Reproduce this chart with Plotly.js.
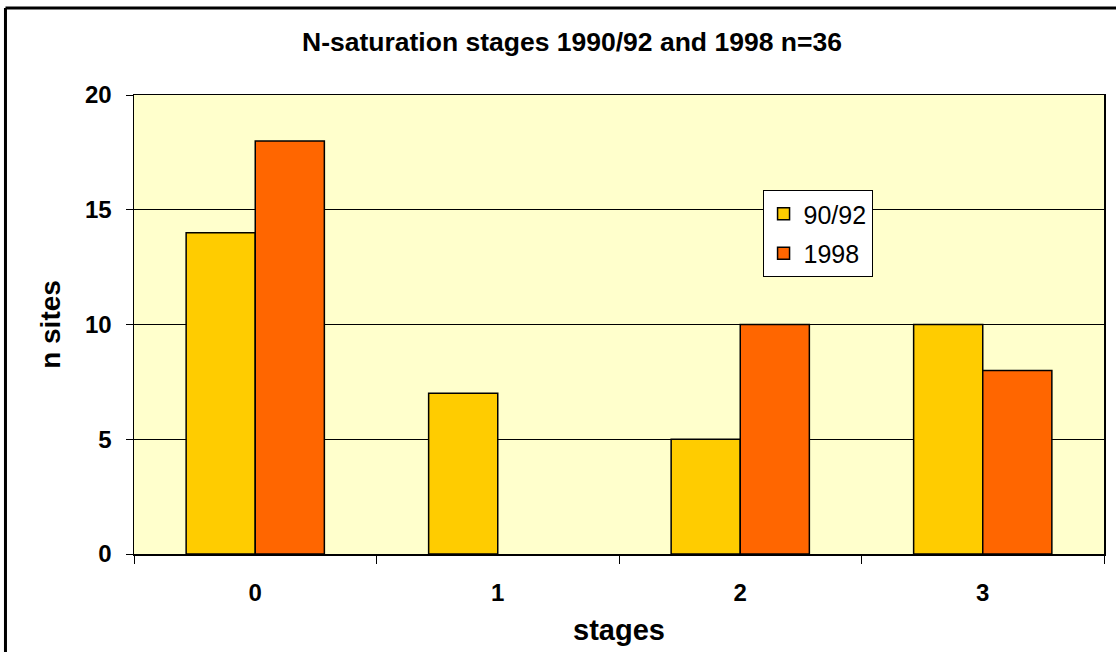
<!DOCTYPE html>
<html>
<head>
<meta charset="utf-8">
<script src="https://cdn.plot.ly/plotly-3.0.1.min.js"></script>
<style>html,body{margin:0;padding:0;background:#fff;}#chart{width:1116px;height:652px;}</style>
</head>
<body>
<div id="chart"></div>
<script>
const categories = ['0', '1', '2', '3'];
const series1990 = [14, 7, 5, 10];
const series1998 = [18, 0, 10, 8];
const seriesNames = ['90/92', '1998'];
const yTicks = [0, 5, 10, 15, 20];

const font = 'Arial, "Liberation Sans", sans-serif';
const edge = vals => vals.map(v => (v === 0 ? 0 : 1.5));

const traces = [
  {type: 'bar', x: categories, y: series1990, name: seriesNames[0], legendgroup: 'a',
   marker: {color: '#FFCC00', line: {color: '#000', width: edge(series1990)}}},
  {type: 'bar', x: categories, y: series1998, name: seriesNames[1], legendgroup: 'b',
   marker: {color: '#FF6600', line: {color: '#000', width: edge(series1998)}}}
];

const layout = {
  width: 1116, height: 652,
  margin: {l: 134, r: 12, t: 95, b: 98, pad: 0},
  paper_bgcolor: '#fff', plot_bgcolor: '#FFFFCC',
  barmode: 'group', bargap: 0.43, bargroupgap: 0,
  font: {family: font, color: '#000'},
  title: {text: 'N-saturation stages 1990/92 and 1998 n=36', font: {size: 26.5, family: font, weight: 'bold'},
          x: 0.4515, xref: 'paper', xanchor: 'center', y: 1 - 42/652, yanchor: 'middle'},
  xaxis: {type: 'category', showline: true, linecolor: '#000', linewidth: 1.5, mirror: true,
          ticks: 'outside', tickson: 'boundaries', ticklen: 8, tickcolor: '#000', tickwidth: 1,
          ticklabelstandoff: 17,
          tickfont: {size: 24, family: font, weight: 'bold'},
          title: {text: 'stages', font: {size: 29, family: font, weight: 'bold'}, standoff: 14}},
  yaxis: {range: [0, 20], tickvals: yTicks, showline: true, linecolor: '#000', linewidth: 1.5, mirror: true,
          ticks: 'outside', ticklen: 7, tickcolor: '#000', tickwidth: 1,
          ticklabelstandoff: 9,
          gridcolor: '#000', gridwidth: 1, zeroline: false,
          tickfont: {size: 24, family: font, weight: 'bold'},
          title: {text: 'n sites', font: {size: 28, family: font, weight: 'bold'}, standoff: 16}},
  legend: {x: 0.648, y: 0.793, xanchor: 'left', yanchor: 'top', bgcolor: '#fff',
           bordercolor: '#000', borderwidth: 1, font: {size: 25, family: font},
           tracegroupgap: 4, itemwidth: 30},
  showlegend: true,
  shapes: [
    {type: 'line', xref: 'paper', yref: 'paper', x0: -0.1325, x1: -0.1325, y0: -0.25, y1: 1.1895,
     line: {color: '#000', width: 3}},
    {type: 'line', xref: 'paper', yref: 'paper', x0: -0.1325, x1: 1.05, y0: 1.1895, y1: 1.1895,
     line: {color: '#000', width: 3}}
  ]
};

Plotly.newPlot('chart', traces, layout, {displayModeBar: false, staticPlot: true});
</script>
</body>
</html>
